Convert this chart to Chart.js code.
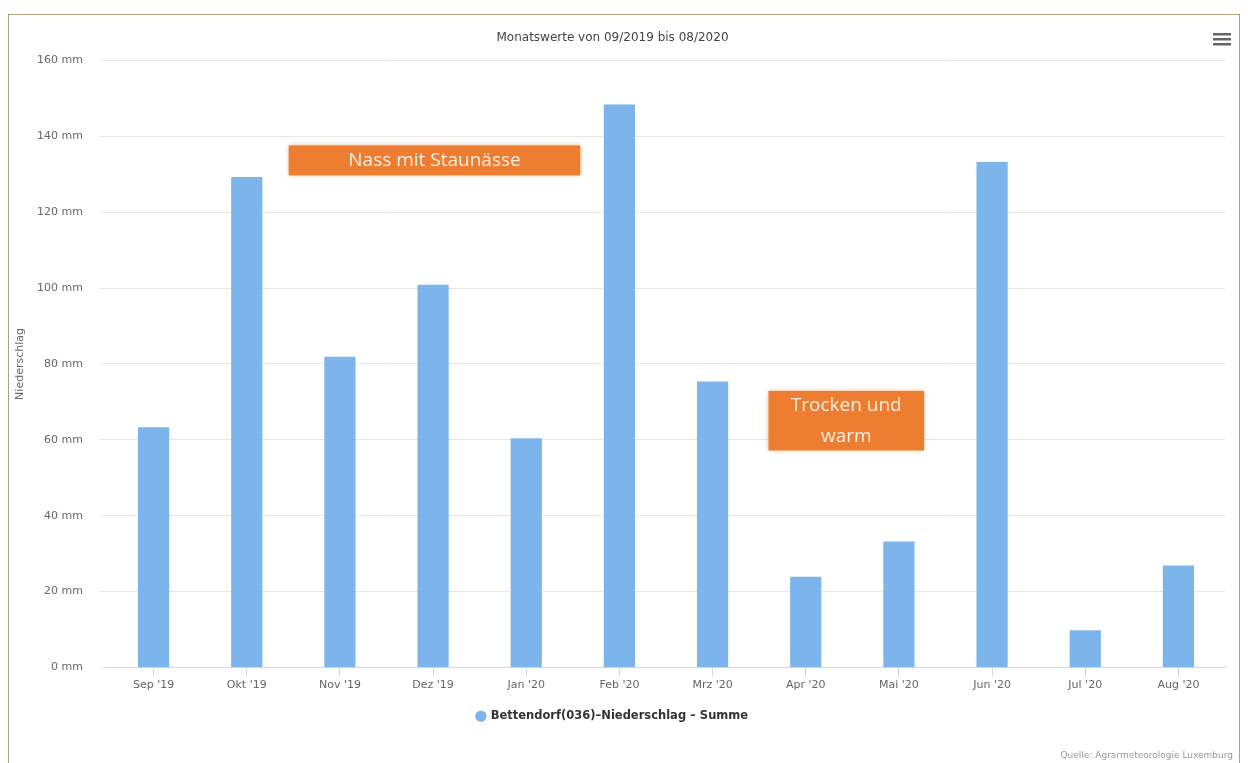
<!DOCTYPE html>
<html>
<head>
<meta charset="utf-8">
<script src="https://cdn.jsdelivr.net/npm/chart.js@4"></script>
<style>
  html, body { margin: 0; padding: 0; background: #fff; }
  #wrap { position: relative; width: 1248px; height: 763px; overflow: hidden; }
  #frame { position: absolute; left: 8px; top: 14px; width: 1232px; height: 800px; border: 1px solid #b59d84; box-sizing: border-box; }
  canvas { position: absolute; left: 0; top: 0; }
</style>
</head>
<body>
<div id="wrap">
  <div id="frame"></div>
  <canvas id="chart" width="1248" height="763"></canvas>
</div>
<script>
const months = ["Sep '19", "Okt '19", "Nov '19", "Dez '19", "Jan '20", "Feb '20",
                "Mrz '20", "Apr '20", "Mai '20", "Jun '20", "Jul '20", "Aug '20"];
const rainfall = [63.3, 129.3, 81.9, 100.9, 60.4, 148.4, 75.4, 23.9, 33.2, 133.2, 9.8, 26.9];
const yTicks = [0, 20, 40, 60, 80, 100, 120, 140, 160];

// text boxes pasted on the chart, in index / mm coordinates
const noteTexts = [["Nass mit Staunässe"], ["Trocken und", "warm"]];
const noteX = [[1.45, 4.58], [6.6, 8.27]];
const noteY = [[129.7, 137.6], [57.2, 72.9]];

const notesPlugin = {
  id: 'notes',
  afterDatasetsDraw(chart) {
    const { ctx, scales: { x, y } } = chart;
    ctx.save();
    noteTexts.forEach((lines, i) => {
      const x0 = x.getPixelForValue(noteX[i][0]);
      const x1 = x.getPixelForValue(noteX[i][1]);
      const y0 = y.getPixelForValue(noteY[i][1]);
      const y1 = y.getPixelForValue(noteY[i][0]);
      ctx.shadowColor = 'rgba(237,125,49,0.6)';
      ctx.shadowBlur = 5;
      ctx.fillStyle = '#ed7d31';
      ctx.fillRect(x0, y0, x1 - x0, y1 - y0);
      ctx.shadowBlur = 0;
      ctx.fillStyle = '#fdf0e2';
      ctx.font = '19px "Open Sans"';
      ctx.textAlign = 'center';
      ctx.textBaseline = 'middle';
      const lh = 31;
      const cy = (y0 + y1) / 2 - (lines.length - 1) * lh / 2;
      lines.forEach((t, j) => ctx.fillText(t, (x0 + x1) / 2, cy + j * lh));
    });
    ctx.restore();
  },
  afterDraw(chart) {
    const { ctx } = chart;
    ctx.save();
    // menu icon
    ctx.fillStyle = '#666';
    [33, 38, 43].forEach(yy => ctx.fillRect(1213, yy, 18, 2.5));
    // credits
    ctx.fillStyle = '#999';
    ctx.font = '9px "DejaVu Sans"';
    ctx.textAlign = 'right';
    ctx.textBaseline = 'middle';
    ctx.fillText('Quelle: Agrarmeteorologie Luxemburg', 1233, 756);
    ctx.restore();
  }
};

new Chart(document.getElementById('chart'), {
  type: 'bar',
  data: {
    labels: months,
    datasets: [{
      label: 'Bettendorf(036)–Niederschlag – Summe',
      data: rainfall,
      backgroundColor: '#7cb5ec',
      barPercentage: 0.335,
      categoryPercentage: 1
    }]
  },
  options: {
    responsive: false,
    animation: false,
    layout: { padding: { left: 0, right: 23, top: 0, bottom: 31 } },
    scales: {
      x: {
        grid: {
          display: true,
          drawOnChartArea: false,
          color: '#ccd6eb',
          tickLength: 9,
          offset: false
        },
        border: { color: '#ccd6eb' },
        ticks: { color: '#666', font: { family: 'DejaVu Sans', size: 11 }, padding: 2 },
        afterFit(scale) { scale.height = 33; }
      },
      y: {
        min: 0,
        max: 160,
        afterBuildTicks(scale) { scale.ticks = yTicks.map(v => ({ value: v })); },
        grid: { color: '#e6e6e6', tickLength: 7, tickColor: '#e6e6e6' },
        border: { display: false },
        ticks: {
          color: '#666',
          font: { family: 'DejaVu Sans', size: 11 },
          padding: 17,
          callback: v => v + ' mm'
        },
        title: {
          display: true,
          text: 'Niederschlag',
          color: '#666',
          font: { family: 'DejaVu Sans', size: 11 },
          padding: { top: 14, bottom: 0 }
        },
        afterFit(scale) { scale.width = 107; }
      }
    },
    plugins: {
      title: {
        display: true,
        text: 'Monatswerte von 09/2019 bis 08/2020',
        color: '#444',
        font: { family: 'DejaVu Sans', size: 12, weight: 'normal' },
        padding: { top: 31, bottom: 15 }
      },
      legend: {
        position: 'bottom',
        labels: {
          usePointStyle: true,
          pointStyle: 'circle',
          boxWidth: 8,
          boxHeight: 8,
          color: '#333',
          font: { family: 'DejaVu Sans', size: 11.5, weight: 'bold' },
          padding: 10
        }
      },
      tooltip: { enabled: false }
    }
  },
  plugins: [notesPlugin]
});
</script>
</body>
</html>
